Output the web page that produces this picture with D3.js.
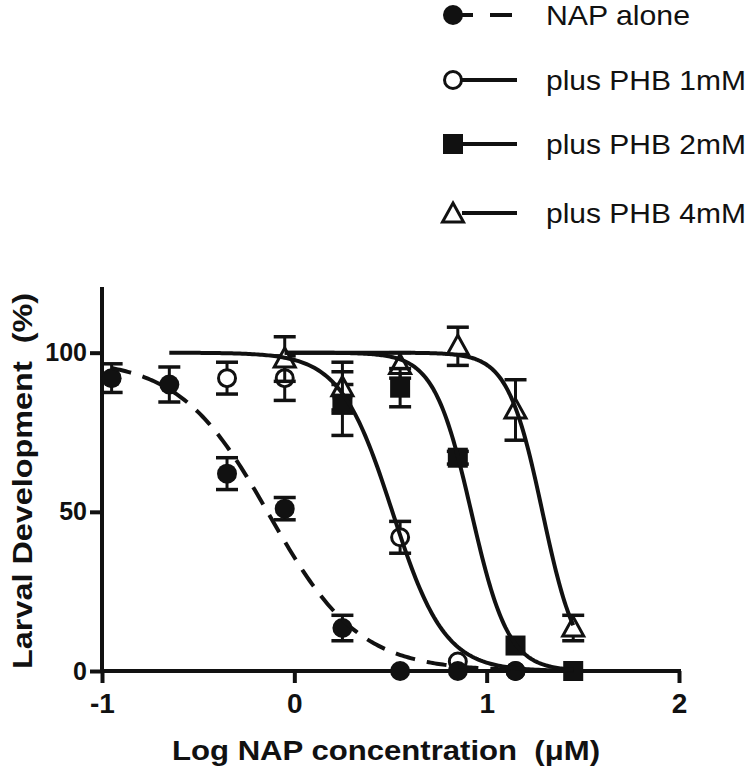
<!DOCTYPE html>
<html><head><meta charset="utf-8">
<script src="https://cdn.jsdelivr.net/npm/d3@7"></script>
<style>
html,body{margin:0;padding:0;background:#fff;}
svg{display:block;}
text{font-family:"Liberation Sans",Arial,Helvetica,sans-serif;fill:#111;}
</style></head>
<body>
<script>
// ---- data ----
const seriesNames = ["NAP alone", "plus PHB 1mM", "plus PHB 2mM", "plus PHB 4mM"];
const markerTypes = ["filledCircle", "openCircle", "filledSquare", "openTriangle"];

const napX    = [-0.95, -0.65, -0.35, -0.05, 0.25, 0.55, 0.85, 1.15];
const napMean = [92, 90, 62, 51, 13.5, 0, 0, 0];
const napErr  = [4.5, 5.5, 5, 3.5, 4, 0, 0, 0];

const phb1X    = [-0.35, -0.05, 0.25, 0.55, 0.85, 1.15];
const phb1Mean = [92, 92, 86, 42, 3, 0];
const phb1Err  = [5, 7, 4, 5, 0, 0];

const phb2X    = [0.25, 0.55, 0.85, 1.15, 1.45];
const phb2Mean = [84, 89, 67, 8, 0];
const phb2Err  = [10, 6, 2, 0, 0];

const phb4X    = [-0.05, 0.25, 0.55, 0.85, 1.15, 1.45];
const phb4Mean = [98, 89, 96, 102, 82, 13.5];
const phb4Err  = [7, 8, 4, 6, 9.5, 4];

// fitted dose-response curve parameters (top, bottom, logIC50, hill slope, x range)
const fitTop     = [98, 100, 100, 100];
const fitBottom  = [0, 0, 0, 0];
const fitLogIC50 = [-0.13, 0.51, 0.92, 1.29];
const fitHill    = [1.86, 3.2, 4.5, 4.84];
const fitXStart  = [-0.95, -0.65, -0.05, -0.05];
const fitXEnd    = [1.15, 1.45, 1.45, 1.45];

const xTicks = [-1, 0, 1, 2];
const yTicks = [0, 50, 100];
const xTitle = "Log NAP concentration  (\u03BCM)";
const yTitle = "Larval Development  (%)";

// ---- build ----
const W = 750, H = 768;
const svg = d3.select("body").append("svg").attr("width", W).attr("height", H);

const x = d3.scaleLinear().domain([-1, 2]).range([102, 679]);
const y = d3.scaleLinear().domain([0, 120]).range([671, 289]);

const seriesData = [
  {x: napX, m: napMean, e: napErr},
  {x: phb1X, m: phb1Mean, e: phb1Err},
  {x: phb2X, m: phb2Mean, e: phb2Err},
  {x: phb4X, m: phb4Mean, e: phb4Err}
].map((s, i) => ({
  name: seriesNames[i], type: markerTypes[i], dashed: i === 0,
  points: s.x.map((xv, j) => ({x: xv, m: s.m[j], e: s.e[j]})),
  fit: {top: fitTop[i], bottom: fitBottom[i], ic: fitLogIC50[i], h: fitHill[i], x0: fitXStart[i], x1: fitXEnd[i]}
}));

// axes
const yAxis = svg.append("g").attr("transform", `translate(${x(-1)},0)`)
  .call(d3.axisLeft(y).tickValues(yTicks).tickSize(12).tickPadding(3).tickFormat(d3.format("d")));
const xAxis = svg.append("g").attr("transform", `translate(0,${y(0)})`)
  .call(d3.axisBottom(x).tickValues(xTicks).tickSize(12).tickPadding(10).tickFormat(d3.format("d")));
yAxis.attr("font-size", 25).attr("font-family", '"Liberation Sans",Arial,sans-serif');
xAxis.attr("font-size", 28).attr("font-family", '"Liberation Sans",Arial,sans-serif');
[yAxis, xAxis].forEach(g => {
  g.select(".domain").attr("stroke", "#111").attr("stroke-width", 4).attr("stroke-linecap", "square");
  g.selectAll(".tick line").attr("stroke", "#111").attr("stroke-width", 4);
  g.selectAll(".tick text").style("font-weight", "bold").attr("fill", "#111");
});
yAxis.selectAll(".tick text").style("font-size", "25px");
xAxis.selectAll(".tick text").style("font-size", "28px");
yAxis.select(".domain").attr("d", `M0,${y(120)}V${y(0)}`);
xAxis.select(".domain").attr("d", `M${x(-1)},0H${x(2)}`);
xAxis.selectAll(".tick text").filter(d => d < 0).text(d => "-" + Math.abs(d));

// titles
svg.append("text").attr("x", 386).attr("y", 760).attr("text-anchor", "middle")
  .style("font-size", "28px").style("font-weight", "bold").style("white-space", "pre")
  .attr("textLength", 428).attr("lengthAdjust", "spacingAndGlyphs").text(xTitle);
svg.append("text").attr("transform", "translate(32,481) rotate(-90)").attr("text-anchor", "middle")
  .style("font-size", "28px").style("font-weight", "bold").style("white-space", "pre")
  .attr("textLength", 376).attr("lengthAdjust", "spacingAndGlyphs").text(yTitle);

// marker drawing
function drawMarker(g, type, cx, cy) {
  if (type === "filledCircle") {
    g.append("circle").attr("cx", cx).attr("cy", cy).attr("r", 10).attr("fill", "#111");
  } else if (type === "openCircle") {
    g.append("circle").attr("cx", cx).attr("cy", cy).attr("r", 8.5).attr("fill", "#fff")
      .attr("stroke", "#111").attr("stroke-width", 3);
  } else if (type === "filledSquare") {
    g.append("rect").attr("x", cx - 10).attr("y", cy - 10).attr("width", 20).attr("height", 20).attr("fill", "#111");
  } else if (type === "openTriangle") {
    g.append("path").attr("d", `M${cx},${cy - 11}L${cx + 10.5},${cy + 8}L${cx - 10.5},${cy + 8}Z`)
      .attr("fill", "#fff").attr("stroke", "#111").attr("stroke-width", 3).attr("stroke-linejoin", "miter");
  }
}

// points with error bars (draw order: 1mM, 4mM, 2mM, NAP)
const order = [1, 3, 2, 0];
const ptsG = svg.append("g");
order.forEach(i => {
  const s = seriesData[i];
  const g = ptsG.append("g");
  s.points.forEach(p => {
    if (p.e > 0) {
      const cx = x(p.x), y1 = y(p.m + p.e), y2 = y(p.m - p.e);
      g.append("line").attr("x1", cx).attr("x2", cx).attr("y1", y1).attr("y2", y2)
        .attr("stroke", "#111").attr("stroke-width", 3);
      [y1, y2].forEach(yy => g.append("line").attr("x1", cx - 11).attr("x2", cx + 11)
        .attr("y1", yy).attr("y2", yy).attr("stroke", "#111").attr("stroke-width", 3.5));
    }
    drawMarker(g, s.type, x(p.x), y(p.m));
  });
});

// fitted curves
const line = d3.line().x(d => x(d[0])).y(d => y(d[1])).curve(d3.curveLinear);
seriesData.forEach(s => {
  const f = s.fit;
  const n = 200;
  const pts = d3.range(n + 1).map(k => {
    const xv = f.x0 + (f.x1 - f.x0) * k / n;
    return [xv, f.bottom + (f.top - f.bottom) / (1 + Math.pow(10, (xv - f.ic) * f.h))];
  });
  svg.append("path").attr("d", line(pts)).attr("fill", "none").attr("stroke", "#111")
    .attr("stroke-width", 4).attr("stroke-dasharray", s.dashed ? "20,12" : null);
});

// legend
const legY = [15, 80, 144, 213];
const leg = svg.append("g");
seriesData.forEach((s, i) => {
  const ly = legY[i];
  leg.append("line").attr("x1", 462).attr("x2", 517).attr("y1", ly).attr("y2", ly)
    .attr("stroke", "#111").attr("stroke-width", 4)
    .attr("stroke-dasharray", s.dashed ? "11,17,22" : null);
  drawMarker(leg, s.type, 453, ly - (s.type === "openTriangle" ? -1 : 0));
  leg.append("text").attr("x", 546).attr("y", ly + 10).style("font-size", "28px")
    .attr("textLength", s.name === "NAP alone" ? 144 : 200).attr("lengthAdjust", "spacingAndGlyphs")
    .text(s.name);
});
</script>
</body></html>
